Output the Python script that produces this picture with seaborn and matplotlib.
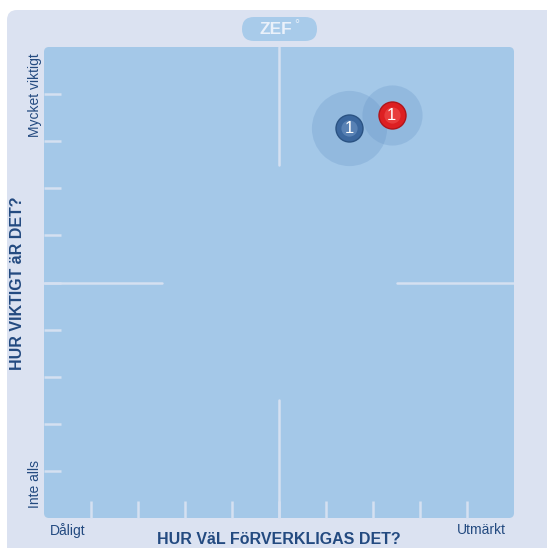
import matplotlib
matplotlib.use("Agg")
from matplotlib import pyplot as plt
from matplotlib.patches import FancyBboxPatch
import seaborn as sns
import pandas as pd

# data (0-10 scale on both axes)
labels = ["1", "1"]
x_vals = [6.49, 7.40]          # HUR VäL FöRVERKLIGAS DET?
y_vals = [8.27, 8.55]          # HUR VIKTIGT äR DET?
spread = [0.80, 0.64]          # halo radius, axis units
ball_colors = ["#3b679e", "#dd1f22"]
ball_light = ["#6c94c4", "#f0504f"]
ball_edges = ["#2a5282", "#b0141a"]

x_ends = ["Dåligt", "Utmärkt"]
y_ends = ["Inte alls", "Mycket viktigt"]
x_title = "HUR VäL FöRVERKLIGAS DET?"
y_title = "HUR VIKTIGT äR DET?"

df = pd.DataFrame({"label": labels, "x": x_vals, "y": y_vals, "spread": spread})

sns.set_style("white")
plt.rcParams["font.family"] = ["Liberation Sans", "DejaVu Sans"]

W, H = 547, 548
fig = plt.figure(figsize=(W / 100, H / 100), dpi=100)
fig.patch.set_facecolor("white")

# outer panel and plot background (pixel coords)
fig.patches.append(FancyBboxPatch((7, -20), 560, H - 10 + 20, boxstyle="round,pad=0,rounding_size=10",
                                  transform=None, facecolor="#dbe2f1", edgecolor="none", zorder=-5))
fig.patches.append(FancyBboxPatch((44, H - 518), 470, 471, boxstyle="round,pad=0,rounding_size=5",
                                  transform=None, facecolor="#a4c8e8", edgecolor="none", zorder=-4))
# ZEF badge
fig.patches.append(FancyBboxPatch((242, H - 41), 75, 24, boxstyle="round,pad=0,rounding_size=12",
                                  transform=None, facecolor="#a8cbea", edgecolor="none", zorder=-3))
fig.text(276 / W, (H - 29) / H, "ZEF", color="#eaf1fa", fontsize=12.5, fontweight="bold",
         ha="center", va="center")
fig.text(297 / W, (H - 25) / H, "°", color="#eaf1fa", fontsize=9, ha="center", va="center")

ax = fig.add_axes([44 / W, (H - 518) / H, 470 / W, 471 / H])
ax.set_zorder(2)
ax.patch.set_visible(False)
ax.set_xlim(0, 10)
ax.set_ylim(0, 10)
for s in ax.spines.values():
    s.set_visible(False)

line_c = "#d5e0f1"
ax.set_xticks(range(1, 10))
ax.set_yticks(range(1, 10))
ax.set_xticklabels([])
ax.set_yticklabels([])
ax.tick_params(bottom=True, left=True, direction="in", length=12, width=1.8, color=line_c)

ax.axvline(5, ymin=0.75, ymax=1, color=line_c, lw=1.8)
ax.axvline(5, ymin=0, ymax=0.25, color=line_c, lw=1.8)
ax.axhline(5, xmin=0, xmax=0.25, color=line_c, lw=1.8)
ax.axhline(5, xmin=0.75, xmax=1, color=line_c, lw=1.8)

px_per_unit = 47
for i, row in df.iterrows():
    d_pt = 2 * row["spread"] * px_per_unit * 0.72
    sns.scatterplot(x=[row["x"]], y=[row["y"]], s=d_pt ** 2, color="#5f8fc4", alpha=0.25,
                    linewidth=0, ax=ax, legend=False, zorder=3)
for i, row in df.iterrows():
    d = 27 * 0.72
    sns.scatterplot(x=[row["x"]], y=[row["y"]], s=d ** 2, color=ball_colors[i],
                    edgecolor=ball_edges[i], linewidth=1.0, ax=ax, legend=False, zorder=4)
    sns.scatterplot(x=[row["x"]], y=[row["y"]], s=(d * 0.6) ** 2, color=ball_light[i],
                    linewidth=0, alpha=0.6, ax=ax, legend=False, zorder=5)
    ax.text(row["x"], row["y"], row["label"], color="white", fontsize=12,
            ha="center", va="center", zorder=6)

text_c = "#234a80"
ax.text(0.5, -0.1, x_ends[0], color=text_c, fontsize=10, ha="center", va="top", clip_on=False)
ax.text(9.3, -0.1, x_ends[1], color=text_c, fontsize=10, ha="center", va="top", clip_on=False)
ax.text(-0.2, 0.72, y_ends[0], color=text_c, fontsize=10, rotation=90, ha="center", va="center",
        clip_on=False)
ax.text(-0.2, 8.98, y_ends[1], color=text_c, fontsize=10, rotation=90, ha="center", va="center",
        clip_on=False)

fig.text(279 / W, (H - 544) / H, x_title, color=text_c, fontsize=11.5, fontweight="bold",
         ha="center", va="baseline")
fig.text(18 / W, (H - 283) / H, y_title, color=text_c, fontsize=11.5, fontweight="bold",
         rotation=90, ha="center", va="center")

fig.savefig("out.png", dpi=100)
